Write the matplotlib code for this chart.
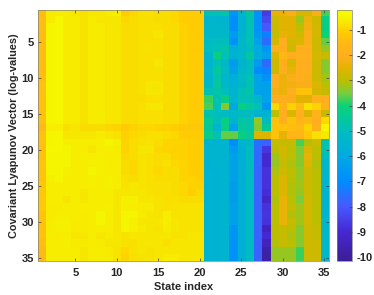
import numpy as np
import matplotlib
matplotlib.use("Agg")
import matplotlib.pyplot as plt
from matplotlib.colors import LinearSegmentedColormap

plt.rcParams['font.family'] = ['Liberation Sans', 'DejaVu Sans']
plt.rcParams['font.weight'] = 'bold'
plt.rcParams['axes.unicode_minus'] = False

# state index 1-20
left_rows = [
    [-1.4,-.65,-.6,-.65,-.7,-.8,-.7,-.7,-.65,-.55,-1.1,-.9,-.8,-.8,-.85,-.85,-.9,-1.05,-1.1,-1.1],
    [-1.4,-.65,-.45,-.65,-.65,-.75,-.65,-.7,-.7,-.7,-.9,-.85,-.8,-.8,-.85,-.85,-.9,-1.05,-1.1,-1.1],
    [-1.4,-.5,-.45,-.65,-.65,-.75,-.65,-.65,-.7,-.7,-.85,-.85,-.8,-.8,-.8,-.85,-.85,-1.0,-1.1,-1.1],
    [-1.4,-.5,-.45,-.65,-.65,-.75,-.65,-.65,-.7,-.7,-.85,-.85,-.8,-.8,-.72,-.85,-.85,-1.0,-1.1,-1.1],
    [-1.4,-.5,-.45,-.65,-.65,-.75,-.65,-.65,-.7,-.7,-.85,-.85,-.8,-.8,-.8,-.85,-.85,-1.0,-1.1,-1.1],
    [-1.4,-.5,-.45,-.65,-.65,-.75,-.65,-.65,-.7,-.7,-.85,-.85,-.8,-.75,-.8,-.85,-.85,-1.0,-1.1,-1.1],
    [-1.4,-.5,-.45,-.65,-.65,-.75,-.65,-.65,-.7,-.7,-.85,-.85,-.8,-.8,-.8,-.85,-.85,-1.0,-1.1,-1.1],
    [-1.4,-.5,-.45,-.65,-.65,-.75,-.65,-.65,-.7,-.7,-.85,-.85,-.8,-.8,-.72,-.85,-.85,-1.0,-1.1,-1.1],
    [-1.4,-.5,-.45,-.65,-.65,-.75,-.65,-.65,-.7,-.7,-.85,-.85,-.8,-.8,-.8,-.85,-.85,-1.0,-1.1,-1.1],
    [-1.4,-.5,-.45,-.65,-.65,-.75,-.65,-.65,-.7,-.7,-.85,-.85,-.8,-.8,-.8,-.85,-.85,-1.0,-1.1,-1.1],
    [-1.35,-.5,-.45,-.65,-.65,-.75,-.65,-.65,-.7,-.7,-.85,-.85,-.8,-.72,-.72,-.85,-.85,-1.0,-1.1,-1.1],
    [-1.35,-.5,-.45,-.65,-.65,-.75,-.65,-.65,-.7,-.7,-.85,-.85,-.8,-.72,-.72,-.85,-.85,-1.0,-1.1,-1.1],
    [-1.35,-.5,-.45,-.65,-.65,-.75,-.65,-.65,-.7,-.7,-.85,-.85,-.85,-.8,-.8,-.85,-.85,-1.0,-1.1,-1.1],
    [-1.3,-.5,-.45,-.65,-.65,-.75,-.65,-.65,-.7,-.7,-.85,-.85,-.8,-.72,-.72,-.85,-.85,-1.0,-1.1,-1.1],
    [-1.3,-.5,-.45,-.65,-.65,-.75,-.65,-.65,-.7,-.7,-.85,-.85,-.8,-.8,-.8,-.85,-.85,-1.0,-1.1,-1.1],
    [-1.35,-.5,-.45,-.65,-.65,-.75,-.65,-.65,-.7,-.7,-.85,-.85,-.8,-.8,-.8,-.85,-.85,-1.0,-1.1,-1.1],
    [-1.55,-.55,-.55,-.8,-.7,-.85,-.85,-.85,-.9,-.95,-1.1,-1.0,-.9,-.9,-.95,-1.0,-1.05,-1.15,-1.2,-1.2],
    [-1.3,-.5,-.45,-.7,-.7,-.7,-.7,-.65,-.7,-.75,-1.0,-.9,-.85,-.8,-.8,-.85,-.9,-1.05,-1.1,-1.1],
    [-1.3,-.5,-.4,-.55,-.6,-.6,-.6,-.55,-.5,-.55,-.95,-.85,-.8,-.75,-.85,-.95,-.95,-1.0,-1.05,-1.05],
    [-1.3,-.45,-.4,-.5,-.6,-.6,-.7,-.6,-.6,-.65,-.95,-.85,-.7,-.7,-.9,-.95,-1.0,-1.0,-1.05,-1.05],
    [-1.25,-.5,-.5,-.5,-.6,-.55,-.6,-.55,-.6,-.6,-.9,-.85,-.75,-.8,-.85,-.85,-.95,-1.0,-1.05,-1.05],
    [-1.25,-.5,-.5,-.5,-.6,-.6,-.55,-.55,-.6,-.6,-.85,-.9,-.75,-.8,-.85,-.8,-.9,-.95,-1.05,-1.05],
    [-1.25,-.5,-.5,-.55,-.6,-.6,-.5,-.55,-.6,-.6,-.85,-.9,-.75,-.8,-.9,-.85,-.85,-.95,-1.05,-1.05],
    [-1.25,-.55,-.5,-.6,-.6,-.6,-.55,-.6,-.55,-.6,-.8,-.85,-.75,-.8,-.85,-.85,-.85,-.95,-1.0,-1.05],
    [-1.2,-.6,-.6,-.6,-.6,-.6,-.55,-.6,-.55,-.6,-.75,-.7,-.75,-.8,-.8,-.8,-.85,-.9,-1.0,-1.0],
    [-1.2,-.6,-.6,-.6,-.6,-.7,-.6,-.6,-.6,-.7,-.7,-.7,-.7,-.75,-.8,-.8,-.85,-.9,-1.05,-.9],
    [-1.15,-.6,-.6,-.7,-.6,-.7,-.6,-.6,-.6,-.7,-.55,-.55,-.7,-.7,-.75,-.8,-.8,-.85,-.85,-.85],
    [-1.15,-.65,-.65,-.6,-.6,-.6,-.6,-.6,-.55,-.7,-.55,-.6,-.65,-.65,-.75,-.8,-.75,-.75,-.75,-.75],
    [-1.25,-.65,-.6,-.6,-.6,-.65,-.6,-.5,-.6,-.7,-.5,-.5,-.65,-.7,-.75,-.6,-.75,-.75,-.75,-.75],
    [-1.25,-.6,-.55,-.55,-.65,-.65,-.6,-.5,-.6,-.7,-.5,-.55,-.7,-.7,-.7,-.6,-.7,-.75,-.75,-.75],
    [-1.3,-.6,-.55,-.55,-.65,-.65,-.6,-.6,-.6,-.7,-.5,-.55,-.65,-.7,-.75,-.65,-.7,-.75,-.75,-.75],
    [-1.3,-.6,-.65,-.6,-.7,-.7,-.6,-.7,-.65,-.7,-.75,-.7,-.7,-.7,-.7,-.7,-.75,-.75,-.7,-.7],
    [-1.4,-.6,-.6,-.55,-.65,-.65,-.6,-.65,-.7,-.7,-.75,-.8,-.7,-.7,-.7,-.8,-.7,-.7,-.7,-.7],
    [-1.5,-.6,-.6,-.6,-.6,-.7,-.6,-.6,-.65,-.75,-.9,-.75,-.7,-.75,-.7,-.7,-.7,-.7,-.7,-.7],
    [-1.55,-.6,-.6,-.6,-.6,-.7,-.6,-.6,-.65,-.75,-.95,-.8,-.75,-.75,-.7,-.65,-.65,-.7,-.7,-.7],
]

# state index 21-28
mid_rows = [
    [-4.9,-4.9,-4.7,-6.7,-5.4,-4.6,-6.8,-8.6],
    [-5.5,-5.5,-5.5,-6.9,-5.6,-4.8,-6.8,-8.3],
    [-5.4,-5.4,-5.4,-6.9,-5.6,-4.9,-6.8,-8.0],
    [-5.4,-5.3,-5.3,-6.5,-5.5,-4.9,-6.6,-7.2],
    [-5.2,-5.0,-5.0,-6.8,-5.4,-4.9,-6.3,-7.6],
    [-5.0,-4.9,-4.7,-5.7,-5.4,-5.1,-5.9,-6.6],
    [-5.5,-4.2,-4.9,-5.6,-5.4,-4.6,-5.9,-6.3],
    [-5.5,-4.8,-5.3,-6.4,-5.5,-5.1,-6.5,-7.6],
    [-5.4,-4.5,-5.2,-6.3,-5.3,-5.1,-7.0,-7.2],
    [-5.5,-4.7,-5.4,-5.8,-5.2,-4.9,-6.2,-6.8],
    [-5.3,-4.5,-5.3,-5.6,-5.3,-4.8,-6.2,-6.3],
    [-4.9,-4.7,-5.0,-5.6,-4.9,-4.7,-6.2,-6.3],
    [-3.8,-4.8,-4.2,-5.5,-4.9,-4.9,-5.4,-6.2],
    [-3.7,-4.9,-3.4,-6.0,-4.2,-4.5,-4.9,-6.7],
    [-4.8,-5.0,-5.2,-5.3,-5.1,-5.2,-5.6,-5.6],
    [-4.4,-5.0,-4.2,-5.5,-4.6,-4.8,-3.3,-5.1],
    [-4.5,-5.5,-4.2,-6.2,-4.5,-4.7,-3.4,-4.5],
    [-4.3,-4.8,-3.6,-3.6,-4.2,-4.4,-2.6,-2.6],
    [-5.6,-5.6,-5.5,-6.9,-5.5,-5.4,-7.5,-7.8],
    [-5.5,-5.5,-5.5,-6.5,-5.7,-5.1,-7.7,-8.7],
    [-5.5,-5.5,-5.5,-6.3,-5.7,-5.1,-7.7,-9.1],
    [-5.6,-5.5,-5.5,-6.3,-5.7,-5.1,-7.7,-9.0],
    [-5.6,-5.6,-5.5,-6.3,-5.7,-5.1,-7.8,-8.8],
    [-5.6,-5.6,-5.5,-6.3,-5.7,-5.1,-7.8,-8.8],
    [-5.6,-5.6,-5.5,-6.4,-5.7,-5.2,-7.8,-8.8],
    [-5.6,-5.6,-5.5,-6.4,-5.7,-5.2,-7.8,-8.9],
    [-5.6,-5.6,-5.5,-6.4,-5.7,-5.2,-7.8,-9.2],
    [-5.6,-5.6,-5.5,-6.3,-5.7,-5.2,-7.8,-8.8],
    [-5.6,-5.6,-5.5,-6.3,-5.7,-5.2,-7.8,-8.7],
    [-5.6,-5.6,-5.5,-6.3,-5.7,-5.2,-7.8,-8.8],
    [-5.6,-5.6,-5.5,-6.7,-5.7,-5.2,-7.8,-9.4],
    [-5.6,-5.6,-5.5,-6.7,-5.7,-5.2,-7.8,-9.0],
    [-5.6,-5.6,-5.5,-6.8,-5.7,-5.2,-7.8,-9.4],
    [-5.6,-5.6,-5.5,-6.8,-5.7,-5.2,-7.8,-9.8],
    [-5.6,-5.6,-5.5,-6.8,-5.7,-5.2,-7.8,-9.9],
]

# state index 29-35
right_rows = [
    [-2.4,-2.3,-2.1,-2.7,-2.7,-2.1,-3.7],
    [-2.8,-2.5,-2.5,-3.2,-2.3,-2.8,-4.2],
    [-2.8,-2.5,-2.5,-3.0,-2.2,-2.7,-4.2],
    [-2.9,-2.4,-2.5,-2.8,-2.1,-2.7,-4.0],
    [-2.7,-2.0,-2.7,-2.6,-2.1,-2.8,-3.6],
    [-2.0,-2.0,-2.8,-2.0,-2.0,-2.8,-3.3],
    [-2.6,-1.6,-2.0,-1.9,-1.9,-2.7,-2.9],
    [-2.8,-2.0,-2.6,-2.0,-2.0,-2.8,-3.4],
    [-2.8,-2.0,-2.4,-2.0,-2.0,-2.8,-3.4],
    [-2.0,-2.3,-2.1,-2.0,-2.1,-2.8,-3.2],
    [-2.0,-2.3,-2.2,-2.1,-2.1,-2.6,-3.0],
    [-2.2,-2.3,-2.0,-1.3,-1.3,-2.7,-2.9],
    [-2.0,-2.0,-2.1,-2.5,-2.5,-1.9,-2.0],
    [-0.9,-1.8,-1.0,-1.5,-0.8,-1.0,-1.9],
    [-3.0,-2.0,-2.6,-2.0,-2.6,-1.8,-2.9],
    [-1.3,-2.0,-1.3,-1.8,-1.6,-2.0,-0.9],
    [-1.3,-1.3,-1.4,-1.5,-1.0,-1.9,-0.4],
    [-1.3,-2.4,-1.7,-1.7,-1.2,-0.8,-0.7],
    [-2.9,-2.9,-2.9,-3.7,-3.1,-2.8,-4.8],
    [-3.0,-2.7,-3.0,-3.5,-2.6,-3.0,-4.8],
    [-3.2,-2.8,-3.0,-3.4,-2.4,-3.0,-5.2],
    [-3.3,-2.9,-3.1,-3.4,-2.6,-3.1,-5.4],
    [-3.1,-2.8,-3.0,-3.3,-2.8,-3.0,-5.4],
    [-3.0,-2.6,-3.0,-3.3,-2.8,-3.0,-5.5],
    [-3.0,-2.6,-3.1,-3.2,-2.8,-3.0,-5.5],
    [-3.0,-2.6,-3.1,-3.3,-2.8,-3.0,-5.5],
    [-3.1,-2.4,-3.0,-3.5,-2.7,-3.0,-5.5],
    [-3.0,-2.4,-2.9,-3.2,-2.7,-3.0,-5.5],
    [-3.0,-2.4,-3.1,-3.2,-2.7,-3.0,-5.5],
    [-3.0,-2.4,-2.9,-3.2,-2.7,-3.0,-5.4],
    [-3.0,-2.9,-3.0,-3.4,-2.8,-2.9,-5.4],
    [-3.0,-2.9,-3.1,-3.4,-2.8,-2.9,-5.4],
    [-3.1,-2.9,-3.0,-3.4,-2.8,-2.8,-5.4],
    [-3.3,-3.3,-3.3,-3.8,-2.8,-2.8,-5.4],
    [-3.3,-3.3,-3.3,-3.8,-2.8,-2.8,-5.4],
]

ticks = [5, 10, 15, 20, 25, 30, 35]
cbar_ticks = [-1, -2, -3, -4, -5, -6, -7, -8, -9, -10]

values = np.hstack([left_rows, mid_rows, right_rows])

vmin, vmax = -10.17, -0.19
stops = [(-10.17, "#3c1e96"), (-9, "#4628d2"), (-8, "#465aff"), (-7, "#008cff"),
         (-6, "#00aae1"), (-5, "#00bebe"), (-4, "#0ad278"), (-3.5, "#78cd3c"),
         (-3, "#bebe00"), (-2.5, "#e1b400"), (-2, "#ffaf1e"), (-1.5, "#ffb914"),
         (-1, "#ffd000"), (-0.7, "#f8e600"), (-0.45, "#f6f600"), (-0.19, "#fafa00")]
cmap = LinearSegmentedColormap.from_list(
    "parulaish", [((v - vmin) / (vmax - vmin), c) for v, c in stops], N=256)

fig = plt.figure(figsize=(3.74, 2.95), dpi=100)
ax = fig.add_axes([38 / 374, 1 - 261.3 / 295, 290.5 / 374, 251.8 / 295])
cax = fig.add_axes([337 / 374, 1 - 261.3 / 295, 15 / 374, 251.8 / 295])

im = ax.imshow(values, cmap=cmap, vmin=vmin, vmax=vmax, aspect="auto",
               interpolation="nearest", extent=[0.5, 35.5, 35.5, 0.5])
ax.set_xlim(0.5, 35.5)
ax.set_ylim(35.5, 0.5)
ax.set_xticks(ticks)
ax.set_yticks(ticks)
ax.tick_params(direction="in", length=2.5, width=0.5, color="#404040", labelsize=8,
               top=True, right=True, pad=3, labelcolor="#262626")
ax.tick_params(axis="x", pad=5)
ax.set_xlabel("State index", fontsize=7.9, fontweight="bold", labelpad=3, color="#262626")
ax.set_ylabel("Covariant Lyapunov Vector (log-values)", fontsize=7.85, fontweight="bold",
              labelpad=2, color="#262626")
for s in ax.spines.values():
    s.set_linewidth(0.5)
    s.set_color("#808080")

cb = fig.colorbar(im, cax=cax)
cb.set_ticks(cbar_ticks)
cb.ax.tick_params(direction="in", length=2.5, width=0.5, color="#404040", labelsize=8,
                  pad=3, labelcolor="#262626")
cb.outline.set_linewidth(0.5)
cb.outline.set_edgecolor("#808080")

fig.savefig("out.png", dpi=100)
